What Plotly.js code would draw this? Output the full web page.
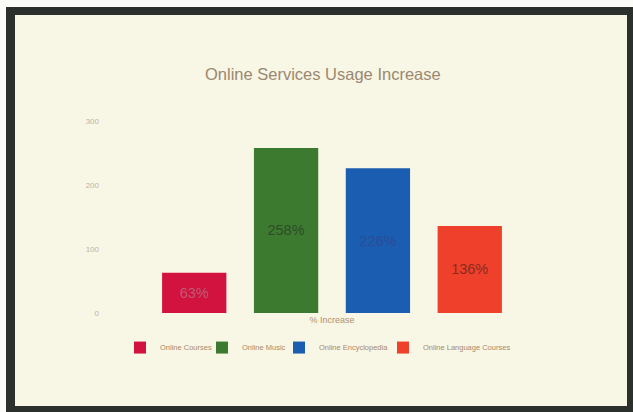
<!DOCTYPE html>
<html>
<head>
<meta charset="utf-8">
<script src="https://cdn.plot.ly/plotly-3.0.1.min.js"></script>
<style>
  html, body { margin:0; padding:0; background:#ffffff; }
  #wrap { position:relative; width:633px; height:412px; overflow:hidden; }
  #chart { position:absolute; left:0; top:0; width:633px; height:412px; }
  #frame { position:absolute; left:6px; top:7px; width:612px; height:391px;
           border-style:solid; border-color:#2b302d;
           border-width:8px 6px 6px 9px;
           box-shadow:0 0 0 8px #fbfbf8;
           pointer-events:none; }
</style>
</head>
<body>
<div id="wrap">
  <div id="chart"></div>
  <div id="frame"></div>
</div>
<script>
// ---- data ----
const categories = ["% Increase"];
const seriesNames = ["Online Courses", "Online Music", "Online Encyclopedia", "Online Language Courses"];
const seriesValues = [63, 258, 226, 136];
const seriesColors = ["#d2123f", "#3c7a30", "#1b5db0", "#ef402b"];
const labelColors = ["#c05a72", "#2f4c28", "#2c4b98", "#8a2b1e"];
const yTickVals = [0, 100, 200, 300];
const yTickText = ["0", "100", "200", "300"];

// legend entry left positions (fraction of plot width), one legend per series
const legendX = [0.0268, 0.2098, 0.3817, 0.6138];
const legendIds = ["legend", "legend2", "legend3", "legend4"];

const traces = seriesNames.map((name, i) => ({
  type: "bar",
  name: name,
  x: categories,
  y: [seriesValues[i]],
  legend: legendIds[i],
  marker: { color: seriesColors[i] },
  texttemplate: "%{y}%",
  textposition: "inside",
  insidetextanchor: "middle",
  textfont: { family: "Liberation Sans, Arial, sans-serif", size: 14.5, color: labelColors[i] },
  hoverinfo: "skip"
}));

const layout = {
  width: 633, height: 412,
  paper_bgcolor: "#f8f6e5",
  plot_bgcolor: "#f8f6e5",
  margin: { l: 108, r: 77, t: 120.5, b: 98.5 },
  barmode: "group",
  bargap: 0.18,
  bargroupgap: 0.3,
  title: {
    text: "Online Services Usage Increase",
    font: { family: "Liberation Sans, Arial, sans-serif", size: 16.5, color: "#9b8870" },
    x: 0.51, xanchor: "center",
    y: 1 - 74/412, yref: "container", yanchor: "middle"
  },
  xaxis: {
    showgrid: false, zeroline: false, showline: false,
    tickfont: { family: "Liberation Sans, Arial, sans-serif", size: 9, color: "#b0906e" }
  },
  yaxis: {
    range: [0, 300],
    tickvals: yTickVals, ticktext: yTickText,
    showgrid: false, zeroline: false, showline: false,
    ticks: "", ticklabelstandoff: 8,
    tickfont: { family: "Liberation Sans, Arial, sans-serif", size: 8, color: "#bdb5a5" }
  },
  showlegend: true
};

legendIds.forEach((id, i) => {
  layout[id] = {
    orientation: "h",
    x: legendX[i], xanchor: "left",
    y: -0.18, yanchor: "middle",
    font: { family: "Liberation Sans, Arial, sans-serif", size: 7.5, color: "#a98a6a" },
    bgcolor: "rgba(0,0,0,0)",
    itemwidth: 30
  };
});

Plotly.newPlot("chart", traces, layout, { displayModeBar: false, staticPlot: true });
</script>
</body>
</html>
